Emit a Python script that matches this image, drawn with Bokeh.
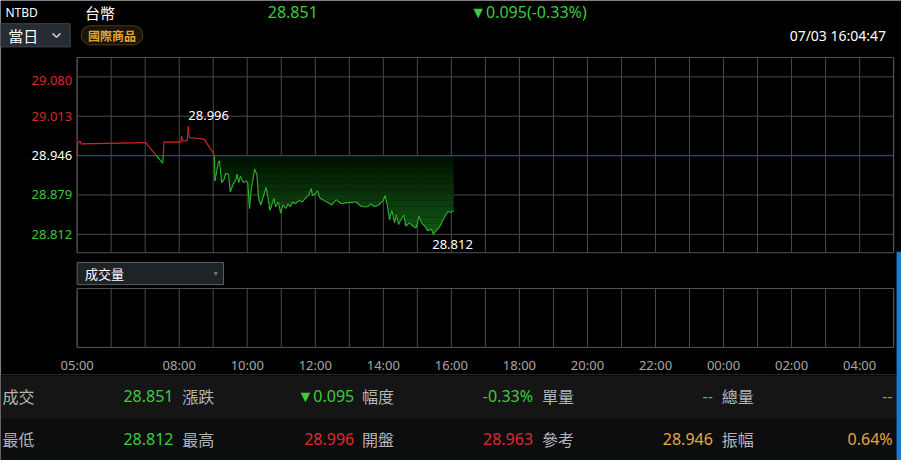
import numpy as np
from bokeh.plotting import figure
from bokeh.models import Range1d, BoxAnnotation
from bokeh.embed import file_html
from bokeh.resources import INLINE
from bokeh.core.properties import value

# ---------------- data ----------------
symbol = "NTBD"
name = "台幣"
last_price = "28.851"
change_text = "▼0.095(-0.33%)"
period_label = "當日"
badge_label = "國際商品"
timestamp = "07/03  16:04:47"
volume_label = "成交量"

ref_price = 28.946

times = ["05:00", "05:01", "05:03", "05:05", "05:07", "07:01", "07:31", "07:33",
         "08:03", "08:04", "08:06", "08:14", "08:16", "08:18", "08:28", "08:44",
         "09:02", "09:03", "09:09", "09:11", "09:15", "09:19", "09:22", "09:27",
         "09:30", "09:35", "09:40", "09:42", "09:45", "09:48", "09:51", "09:54",
         "09:58", "10:01", "10:04", "10:07", "10:10", "10:13", "10:17", "10:20",
         "10:24", "10:28", "10:33", "10:36", "10:40", "10:45", "10:47", "10:50",
         "10:55", "10:59", "11:03", "11:08", "11:12", "11:16", "11:20", "11:25",
         "11:31", "11:37", "11:42", "11:48", "11:53", "11:55", "12:00", "12:04",
         "12:08", "12:17", "12:29", "12:37", "12:46", "12:57", "13:12", "13:18",
         "13:23", "13:32", "13:38", "13:44", "13:52", "14:00", "14:03", "14:07",
         "14:11", "14:15", "14:20", "14:23", "14:27", "14:31", "14:36", "14:40",
         "14:46", "14:52", "14:58", "15:03", "15:07", "15:13", "15:19", "15:25",
         "15:28", "15:31", "15:36", "15:40", "15:45", "15:50", "15:54", "15:58",
         "16:02", "16:04"]
prices = [28.946, 28.967, 28.969, 28.971, 28.966, 28.968, 28.933, 28.969,
          28.969, 28.979, 28.971, 28.971, 28.996, 28.976, 28.976, 28.974,
          28.947, 28.903, 28.935, 28.937, 28.900, 28.905, 28.916, 28.914,
          28.884, 28.897, 28.905, 28.914, 28.900, 28.911, 28.903, 28.900,
          28.903, 28.900, 28.856, 28.889, 28.905, 28.923, 28.914, 28.873,
          28.862, 28.875, 28.892, 28.878, 28.853, 28.867, 28.873, 28.859,
          28.867, 28.848, 28.862, 28.856, 28.864, 28.859, 28.867, 28.864,
          28.870, 28.867, 28.873, 28.878, 28.890, 28.878, 28.881, 28.886,
          28.874, 28.869, 28.862, 28.871, 28.864, 28.866, 28.867, 28.862,
          28.859, 28.859, 28.864, 28.859, 28.862, 28.870, 28.878, 28.862,
          28.837, 28.853, 28.832, 28.845, 28.829, 28.837, 28.845, 28.826,
          28.832, 28.826, 28.823, 28.843, 28.832, 28.826, 28.818, 28.821,
          28.812, 28.816, 28.821, 28.826, 28.837, 28.845, 28.851, 28.849,
          28.852, 28.851]

y_ticks = [29.080, 29.013, 28.946, 28.879, 28.812]
y_tick_labels = ["29.080", "29.013", "28.946", "28.879", "28.812"]
y_tick_colors = ["#d42b2b", "#d42b2b", "#ffffff", "#3cc83c", "#3cc83c"]
x_tick_labels = ["05:00", "08:00", "10:00", "12:00", "14:00", "16:00", "18:00",
                 "20:00", "22:00", "00:00", "02:00", "04:00"]

row1_labels = ["成交", "漲跌", "幅度", "單量", "總量"]
row1_values = ["28.851", "▼0.095", "-0.33%", "--", "--"]
row1_colors = ["#3ccc3c", "#3ccc3c", "#3ccc3c", "#3ccc3c", "#3ccc3c"]
row2_labels = ["最低", "最高", "開盤", "參考", "振幅"]
row2_values = ["28.812", "28.996", "28.963", "28.946", "0.64%"]
row2_colors = ["#3ccc3c", "#e0282c", "#e0282c", "#e8a73a", "#e8a73a"]

# ---------------- layout geometry (reference pixels) ----------------
W_REF, H_REF = 917, 476
PX_L, PX_R = 78, 909          # 05:00 .. 05:00 (+24h)
P_TOP, P_BOT = 59, 261        # price panel
V_TOP, V_BOT = 298, 359       # volume panel
TICK_TOP_PX, TICK_BOT_PX = 79, 242   # pixel rows of first / last y tick


def hours(s):
    hh, mm = map(int, s.split(":"))
    return ((hh - 5) % 24) + mm / 60.0


span = 24.0
x_start = -PX_L / (PX_R - PX_L) * span
x_end = (W_REF - PX_L) / (PX_R - PX_L) * span
k = (y_ticks[0] - y_ticks[-1]) / (TICK_BOT_PX - TICK_TOP_PX)
price_top = y_ticks[0] + TICK_TOP_PX * k
price_bot = y_ticks[-1] - (H_REF - TICK_BOT_PX) * k

p = figure(width=901, height=460, x_range=Range1d(x_start, x_end),
           y_range=Range1d(H_REF, 0), output_backend="svg",
           toolbar_location=None, x_axis_location=None, y_axis_location=None,
           min_border=0, background_fill_color="black",
           border_fill_color="black", outline_line_color=None)
p.extra_x_ranges = {"px": Range1d(0, W_REF)}
p.extra_y_ranges = {"price": Range1d(price_bot, price_top)}
p.grid.visible = False

LAT = value("Noto Sans")
CJK = value("Noto Sans CJK TC")


def txt(x, y, s, color, size, align="left", font=LAT, xr="px", yr="default",
        style="normal"):
    p.text(x=[x], y=[y], text=[s], text_color=color, text_font_size=size,
           text_align=align, text_baseline="middle", text_font=font,
           text_font_style=style, x_range_name=xr, y_range_name=yr)


# ---------------- header ----------------
txt(5, 12, symbol, "#ffffff", "12px")
txt(86, 12, name, "#ffffff", "15px", font=CJK)
txt(272, 12, last_price, "#3ccc3c", "16px")
txt(478, 12, change_text, "#3ccc3c", "16px")
p.quad(left=[0], right=[71], top=[24], bottom=[48], fill_color="#262c31",
       line_color="#3e454b", x_range_name="px")
txt(8, 36, period_label, "#ffffff", "15px", font=CJK)
p.line(x=[53, 57, 61], y=[34, 38, 34], line_color="#d0d0d0", line_width=1.5,
       x_range_name="px")
pill = BoxAnnotation(left=82, right=145, top=26, bottom=46, x_range_name="px",
                     fill_color="#1b1408", fill_alpha=1.0, line_color="#b88a30",
                     line_width=1.2, border_radius=10, level="underlay")
p.add_layout(pill)
txt(113.5, 36.5, badge_label, "#e3a436", "12px", align="center", font=CJK,
    style="bold")
txt(905, 36, timestamp, "#ffffff", "14px", align="right")

# ---------------- price panel ----------------
hrs = np.arange(0, 25)
p.segment(x0=hrs, x1=hrs, y0=[P_TOP] * len(hrs), y1=[P_BOT] * len(hrs),
          line_color="#4a4a4a", line_width=1)
grid_ticks = [t for t in y_ticks if t != ref_price]
p.segment(x0=[0] * len(grid_ticks), x1=[span] * len(grid_ticks), y0=grid_ticks,
          y1=grid_ticks, line_color="#4a4a4a", line_width=1, y_range_name="price")
p.quad(left=[0], right=[span], top=[P_TOP], bottom=[P_BOT], fill_color=None,
       line_color="#555555", line_width=1)

h = np.array([hours(t) for t in times])
pr = np.array(prices)

# gradient fill below reference
levels = np.linspace(ref_price, y_ticks[-1] - 0.01, 16)
n_b = len(levels) - 1
for j in range(n_b):
    b, a = levels[j], levels[j + 1]
    f = (j + 0.5) / n_b
    col = "#%02x%02x%02x" % (int(0 + 22 * f), int(16 + 78 * f), int(0 + 22 * f))
    p.varea(x=h, y1=np.clip(pr, a, b), y2=[b] * len(h), fill_color=col,
            y_range_name="price")

p.segment(x0=[0], x1=[span], y0=[ref_price], y1=[ref_price],
          line_color="#2d4b60", line_width=1.2, y_range_name="price")

sx0, sy0, sx1, sy1, sc = [], [], [], [], []
RED, GREEN = "#dd2424", "#2fb42f"


def add_seg(a0, b0, a1, b1, up):
    sx0.append(a0); sy0.append(b0); sx1.append(a1); sy1.append(b1)
    sc.append(RED if up else GREEN)


for i in range(len(h) - 1):
    x0, y0, x1, y1 = h[i], pr[i], h[i + 1], pr[i + 1]
    if (y0 - ref_price) * (y1 - ref_price) < 0:
        xm = x0 + (ref_price - y0) / (y1 - y0) * (x1 - x0)
        add_seg(x0, y0, xm, ref_price, y0 > ref_price)
        add_seg(xm, ref_price, x1, y1, y1 > ref_price)
    else:
        add_seg(x0, y0, x1, y1, (y0 + y1) / 2 >= ref_price)
p.segment(x0=sx0, y0=sy0, x1=sx1, y1=sy1, line_color=sc, line_width=1.1,
          y_range_name="price")

imax = int(np.argmax(pr))
imin = int(np.argmin(pr))
p.text(x=[h[imax]], y=[pr[imax]], text=["%.3f" % pr[imax]], text_color="#ffffff",
       text_font_size="13px", text_font=LAT, text_baseline="middle",
       text_align="left", y_offset=-11, y_range_name="price")
p.text(x=[h[imin]], y=[pr[imin]], text=["%.3f" % pr[imin]], text_color="#ffffff",
       text_font_size="13px", text_font=LAT, text_baseline="middle",
       text_align="left", y_offset=10, x_offset=-1, y_range_name="price")

# y tick labels
for i, (t, lab, c) in enumerate(zip(y_ticks, y_tick_labels, y_tick_colors)):
    p.text(x=[73], y=[t], text=[lab], text_color=c, text_font_size="13px",
           text_font=LAT, text_align="right", text_baseline="middle",
           y_offset=4 if i == 0 else 0, x_range_name="px", y_range_name="price")

# ---------------- volume panel ----------------
p.quad(left=[78], right=[227], top=[271], bottom=[294], fill_color="#1e2327",
       line_color="#5b6166", x_range_name="px")
txt(86, 282.5, volume_label, "#ffffff", "13px", font=CJK)
p.text(x=[219], y=[283], text=["▼"], text_color="#6d747a", text_font_size="7px",
       text_align="center", text_baseline="middle", x_range_name="px")
p.segment(x0=hrs, x1=hrs, y0=[V_TOP] * len(hrs), y1=[V_BOT] * len(hrs),
          line_color="#4a4a4a", line_width=1)
p.quad(left=[0], right=[span], top=[V_TOP], bottom=[V_BOT], fill_color=None,
       line_color="#555555", line_width=1)

# x tick labels
p.text(x=[hours(s) for s in x_tick_labels], y=[377] * len(x_tick_labels),
       text=x_tick_labels, text_color="#a8a8a8", text_font_size="13px",
       text_font=LAT, text_align="center", text_baseline="middle")

# ---------------- bottom table ----------------
p.quad(left=[0, 0], right=[W_REF, W_REF], top=[388, 432], bottom=[432, 476],
       fill_color=["#151515", "#0c0d0f"], line_color=None, x_range_name="px")
p.segment(x0=[0], x1=[W_REF], y0=[387], y1=[387], line_color="#262626",
          x_range_name="px")
p.quad(left=[912], right=[917], top=[260], bottom=[476], fill_color="#1a7ad0",
       line_color=None, x_range_name="px")

lab_x = [2, 185, 368, 551, 734]
val_x = [176, 360, 542, 725, 908]
for row_y, labs, vals, cols in [(409, row1_labels, row1_values, row1_colors),
                                (454, row2_labels, row2_values, row2_colors)]:
    p.text(x=lab_x, y=[row_y] * 5, text=labs, text_color="#b4b4b4",
           text_font_size="16px", text_font=CJK, text_align="left",
           text_baseline="middle", x_range_name="px")
    p.text(x=val_x, y=[row_y] * 5, text=vals, text_color=cols,
           text_font_size="16px", text_font=LAT, text_align="right",
           text_baseline="middle", x_range_name="px")

open("out.html", "w").write(file_html(p, INLINE))
